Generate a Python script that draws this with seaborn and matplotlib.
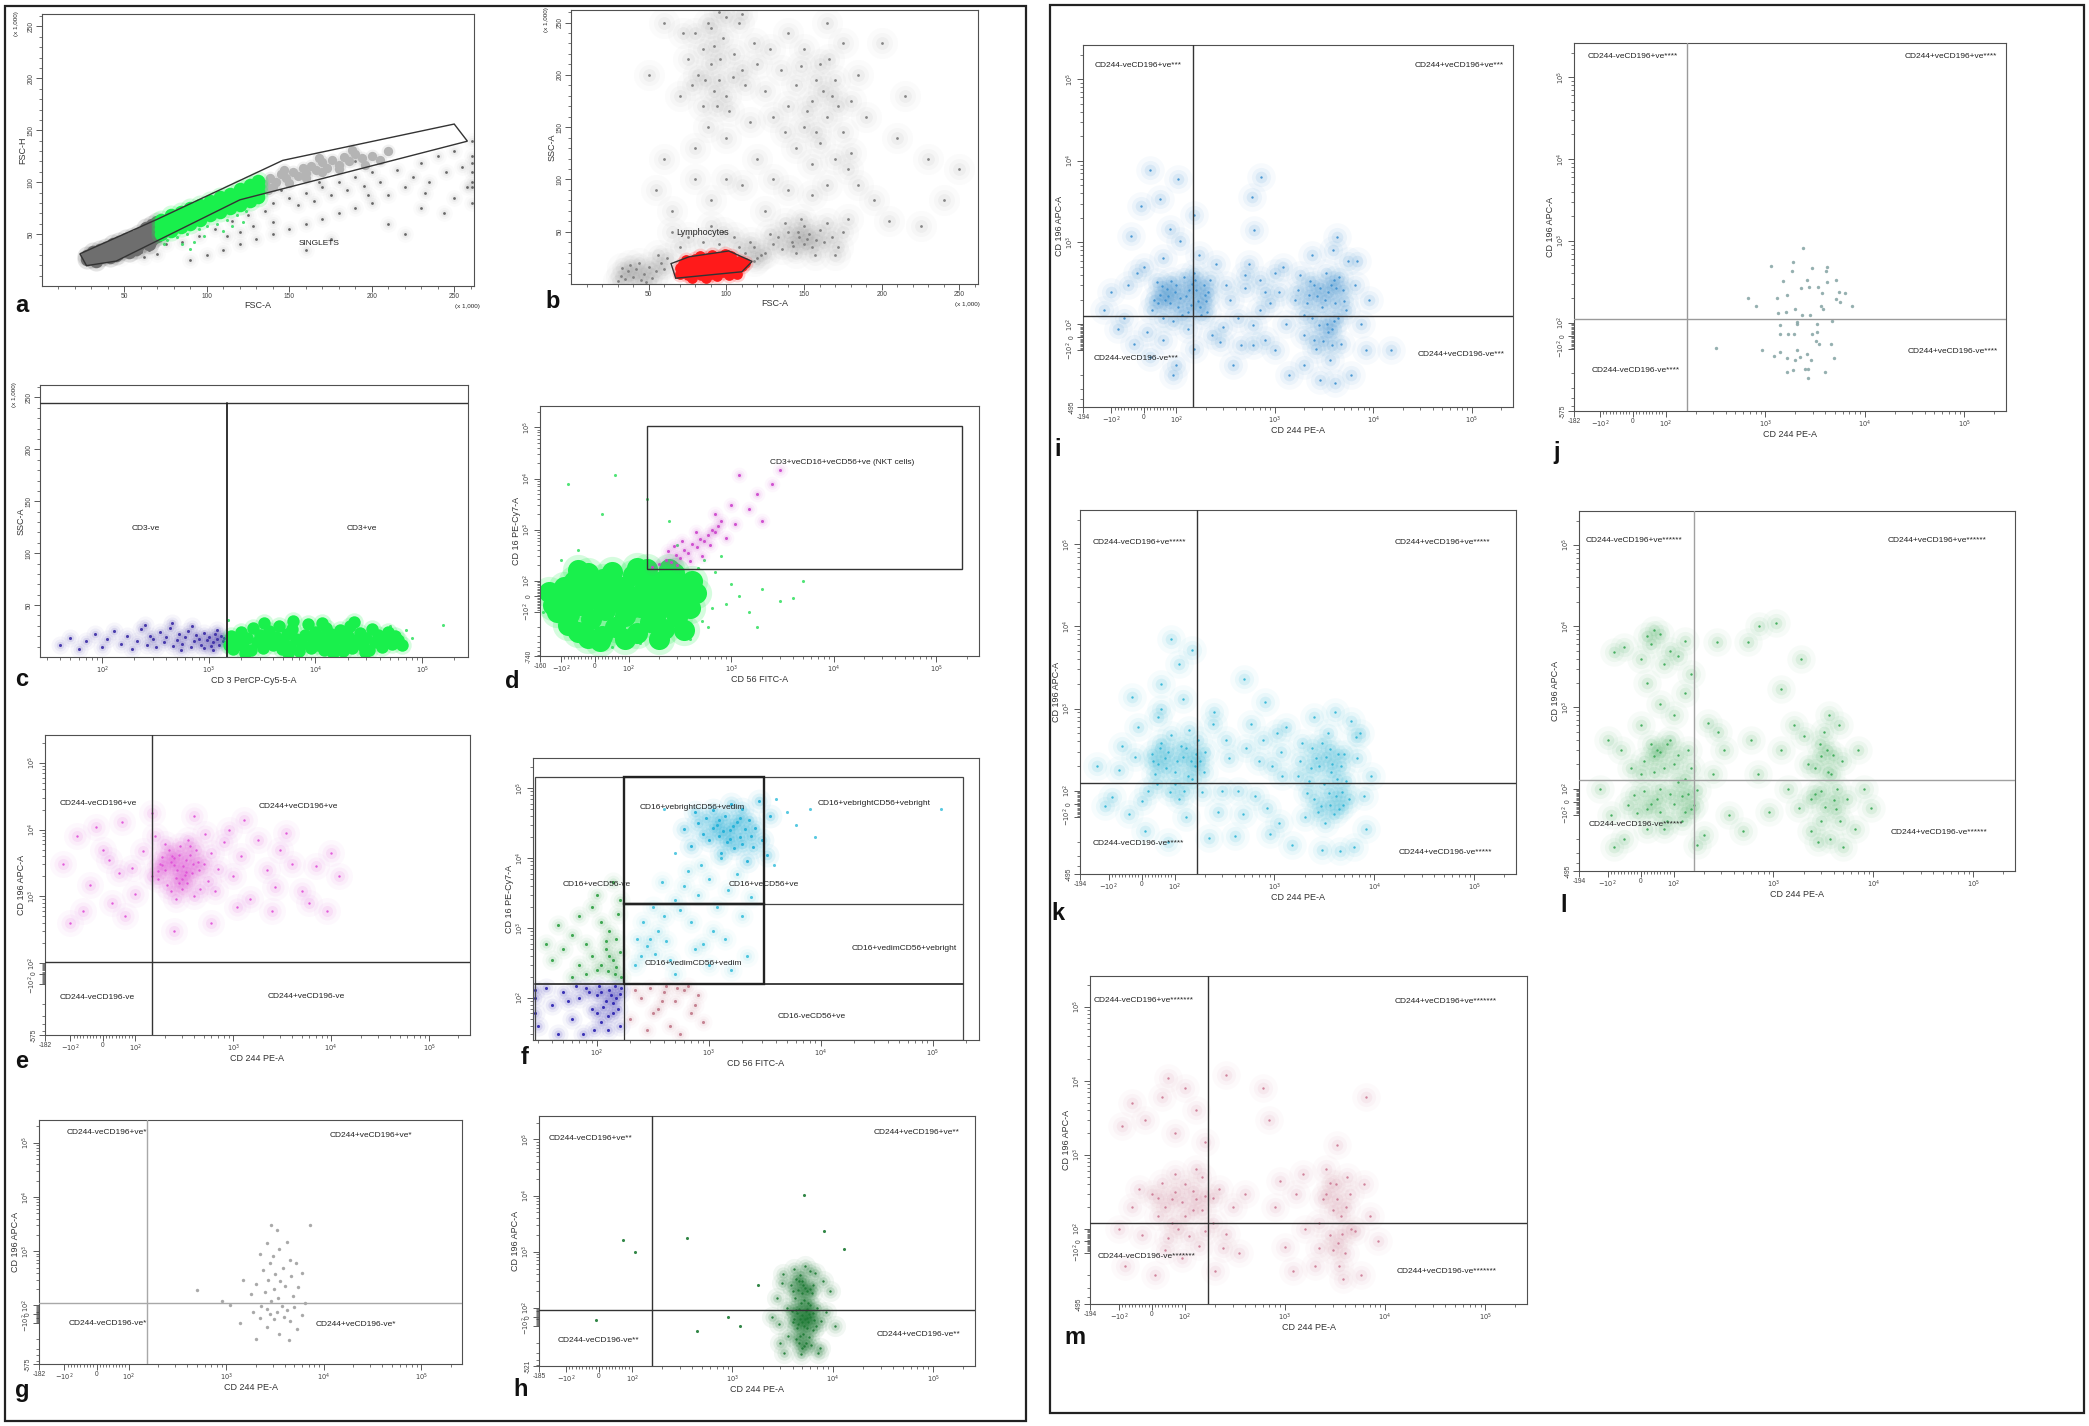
import matplotlib
matplotlib.use("Agg")
import matplotlib.pyplot as plt
import numpy as np
import pandas as pd
import seaborn as sns
from matplotlib.patches import Rectangle, Polygon
from matplotlib.ticker import FixedLocator, FixedFormatter, NullFormatter

# ---------------------------------------------------------------- data
# panel a  (FSC-A vs FSC-H, x1000)
a_gate = [(23, 31), (69.5, 64), (146, 121), (250, 156), (258, 139.5), (120, 83), (45, 24), (27, 19.6)]
a_dark = [(27, 26), (27, 29), (31, 27), (31, 30), (31, 33), (35, 28), (35, 32), (35, 35), (39, 30), (39, 34), (39, 37),
          (43, 32), (43, 36), (43, 40), (47, 34), (47, 38), (47, 42), (51, 36), (51, 40), (51, 45), (55, 38), (55, 43),
          (55, 47), (59, 40), (59, 45), (59, 50), (63, 42), (63, 47), (63, 52), (63, 56), (67, 45), (67, 50), (67, 55),
          (67, 59), (70, 48), (70, 53), (70, 58), (70, 62), (33, 24), (45, 30), (57, 36), (65, 40), (41, 28), (53, 33)]
a_green = [(72, 50), (72, 55), (72, 60), (72, 64), (78, 53), (78, 58), (78, 63), (78, 68), (84, 57), (84, 62), (84, 67),
           (84, 71), (90, 60), (90, 65), (90, 70), (90, 75), (96, 64), (96, 69), (96, 74), (96, 78), (102, 68), (102, 72),
           (102, 77), (102, 82), (108, 71), (108, 76), (108, 81), (108, 86), (114, 75), (114, 80), (114, 85), (114, 89),
           (120, 78), (120, 83), (120, 88), (120, 93), (126, 82), (126, 87), (126, 92), (126, 97), (131, 86), (131, 91),
           (131, 96), (131, 101)]
a_green_sparse = [(76, 44), (82, 47), (88, 50), (95, 55), (100, 58), (106, 60), (112, 64), (118, 68), (124, 72), (85, 40),
                  (98, 48), (110, 53), (122, 62), (92, 42), (115, 58), (128, 78), (80, 52), (104, 66), (74, 40), (90, 36)]
a_light = [(135, 98), (138, 104), (142, 100), (145, 108), (148, 104), (152, 110), (155, 106), (158, 114), (160, 109),
           (163, 116), (166, 112), (170, 119), (173, 114), (176, 121), (180, 117), (183, 124), (186, 120), (190, 127),
           (194, 123), (140, 95), (150, 99), (160, 104), (170, 110), (180, 113), (200, 125), (210, 130), (205, 121),
           (137, 92), (147, 112), (168, 123), (188, 131), (196, 117)]
a_black = [(55, 30), (60, 33), (65, 35), (75, 40), (85, 42), (95, 48), (105, 55), (115, 63), (125, 68), (135, 72),
           (140, 80), (150, 85), (155, 78), (160, 90), (165, 82), (170, 95), (175, 88), (180, 100), (185, 92), (190, 105),
           (195, 96), (200, 110), (205, 100), (210, 88), (215, 112), (220, 95), (225, 105), (230, 118), (235, 100),
           (240, 125), (245, 110), (250, 130), (255, 115), (258, 95), (200, 80), (190, 75), (180, 70), (170, 65),
           (160, 60), (150, 55), (140, 50), (130, 45), (120, 40), (110, 35), (100, 30), (90, 25), (175, 45), (210, 60),
           (230, 75), (250, 85), (160, 35), (220, 50), (190, 120), (140, 62), (128, 58), (168, 100), (145, 92),
           (198, 88), (232, 90), (244, 70), (120, 52), (112, 48), (261, 80), (261, 95), (261, 110), (261, 125),
           (261, 140), (261, 100), (261, 118), (62, 28), (70, 31), (48, 27)]

# panel b  (FSC-A vs SSC-A, x1000)
b_gate = [(64.4, 19.5), (76, 26), (101.6, 31.6), (116.6, 21.6), (110, 11.7), (82.4, 7.7), (67.4, 5.5)]
b_red = [(70, 10), (70, 15), (72, 19), (75, 9), (76, 14), (78, 20), (80, 24), (80, 11), (82, 16), (84, 9), (85, 20),
         (86, 13), (88, 25), (88, 17), (90, 10), (92, 21), (93, 14), (95, 26), (96, 18), (98, 11), (100, 23), (101, 15),
         (103, 27), (104, 19), (106, 13), (108, 22), (110, 17), (112, 20), (74, 23), (83, 27), (91, 28), (99, 29),
         (94, 8), (102, 9), (107, 10), (78, 6), (87, 6), (97, 25), (85, 23), (79, 17), (90, 19), (96, 14), (84, 15),
         (100, 18), (76, 18)]
b_gray = [(30, 3), (32, 8), (35, 5), (37, 12), (40, 7), (42, 14), (45, 4), (47, 10), (50, 16), (52, 6), (55, 12),
          (38, 18), (44, 20), (33, 15), (48, 2), (58, 20), (60, 14), (62, 25), (56, 28),
          (125, 30), (130, 38), (133, 45), (136, 33), (140, 50), (142, 40), (145, 30), (147, 45), (150, 55), (150, 38),
          (153, 48), (155, 35), (158, 42), (160, 52), (163, 40), (165, 58), (168, 45), (172, 35), (175, 50), (138, 58),
          (128, 48), (120, 25), (118, 35), (178, 62), (170, 28), (148, 62), (157, 28), (143, 36), (152, 43), (146, 50),
          (118, 22), (122, 28), (112, 30), (108, 35), (115, 40), (105, 45), (98, 50), (90, 55), (85, 40), (75, 45),
          (70, 35), (65, 50), (95, 38),
          (80, 240), (85, 225), (90, 210), (95, 195), (100, 180), (88, 250), (98, 235), (105, 220), (110, 205), (82, 200),
          (92, 185), (102, 165), (85, 170), (75, 215), (78, 190), (95, 260), (108, 250), (112, 190), (118, 230),
          (70, 180), (88, 150), (100, 140), (80, 130), (115, 155), (120, 210), (110, 258), (72, 240), (92, 228),
          (104, 198), (90, 245), (96, 215), (86, 195), (100, 255), (94, 170),
          (140, 240), (150, 225), (160, 210), (170, 195), (145, 190), (155, 175), (165, 160), (175, 145), (150, 150),
          (160, 135), (170, 120), (140, 170), (180, 175), (185, 200), (175, 230), (165, 250), (155, 115), (145, 130),
          (135, 205), (130, 160), (180, 125), (190, 160), (125, 185), (168, 180), (158, 195), (148, 208), (138, 145),
          (128, 225), (178, 110), (185, 95), (162, 185), (152, 165), (172, 170), (158, 145), (166, 215),
          (60, 120), (55, 90), (65, 70), (200, 230), (210, 140), (230, 120), (250, 110), (205, 60), (225, 55), (240, 80),
          (60, 250), (50, 200), (195, 80), (215, 180), (120, 120), (110, 95), (130, 100), (125, 70), (140, 90),
          (155, 85), (165, 95), (100, 100), (90, 80), (80, 100)]

# panel c  (CD3 PerCP-Cy5-5 vs SSC-A x1000)
c_gate_x = 1475
c_gate_top = 245
c_blue = [(40, 12), (50, 18), (60, 8), (70, 15), (85, 22), (100, 10), (110, 17), (130, 25), (150, 13), (170, 20),
          (190, 8), (210, 15), (230, 27), (260, 12), (280, 20), (300, 17), (320, 10), (350, 24), (380, 14), (400, 19),
          (430, 28), (460, 11), (500, 16), (520, 22), (560, 13), (600, 19), (640, 25), (680, 10), (720, 15), (760, 21),
          (800, 17), (850, 12), (900, 23), (950, 16), (1000, 19), (1050, 11), (1100, 14), (1150, 22), (1200, 17),
          (1250, 12), (1300, 20), (1350, 15), (1400, 18), (1450, 13), (700, 30), (450, 33), (250, 31), (1200, 26),
          (900, 9), (550, 7), (1100, 7)]
c_green = [(1550, 12), (1600, 20), (1700, 8), (1800, 16), (2000, 24), (2100, 11), (2300, 18), (2500, 7), (2600, 28),
           (2800, 14), (3000, 21), (3200, 9), (3500, 17), (3700, 25), (4000, 12), (4300, 19), (4500, 30), (4800, 8),
           (5000, 15), (5400, 22), (5800, 11), (6000, 27), (6500, 17), (7000, 6), (7500, 13), (8000, 21), (8500, 32),
           (9000, 9), (9500, 16), (10000, 24), (10500, 12), (11000, 19), (12000, 7), (12500, 28), (13000, 15),
           (14000, 22), (15000, 10), (16000, 18), (17000, 26), (18000, 6), (19000, 13), (20000, 20), (21000, 30),
           (22000, 9), (24000, 16), (26000, 23), (28000, 11), (30000, 18), (32000, 7), (34000, 27), (36000, 14),
           (39000, 21), (42000, 10), (45000, 17), (48000, 24), (52000, 13), (56000, 20), (60000, 16), (65000, 12),
           (3300, 33), (6200, 35), (11500, 33), (23000, 34), (2200, 4), (5500, 4), (14500, 4), (29000, 5)]
c_green_sparse = [(80000, 18), (157000, 31), (70000, 26), (1500, 36), (50000, 30)]

# panel d  (CD56 FITC vs CD16 PE-Cy7)
d_gate = (152, 171, 179000, 107000)
d_green = [(-110, -100), (-100, -20), (-90, 60), (-80, -180), (-70, 0), (-60, 100), (-50, -250), (-40, -60), (-30, 40),
           (-20, 140), (-10, -140), (0, -20), (10, 80), (20, -300), (30, -90), (40, 20), (50, 150), (60, -200),
           (70, -40), (80, 60), (90, -120), (100, 10), (110, 130), (120, -260), (130, -70), (140, 40), (150, 170),
           (160, -160), (180, -20), (200, 90), (220, -220), (240, -60), (260, 30), (280, 140), (300, -130), (330, -10),
           (360, 80), (400, -80), (450, 20), (-120, -60), (-130, 30), (15, -380), (90, -350), (200, -340), (-50, 160),
           (250, 170), (350, -230), (420, 100), (120, 180), (-20, -330), (55, -10), (105, -80), (165, 95), (-75, -110),
           (25, 110), (190, -100), (310, 60)]
d_green_sparse = [(700, 150), (900, -50), (1200, 0), (1500, -100), (2000, 50), (3000, -30), (5000, 100), (600, -200),
                  (800, 300), (1000, 80), (-150, -100), (-140, 50), (200, -450), (50, -500), (300, 500), (-50, 400),
                  (20, 2000), (-80, 8000), (60, 12000), (150, 4000), (250, 1500), (400, -350), (1800, -200), (4000, -10),
                  (550, 250), (650, -80), (480, 180), (-100, 260), (130, -420), (-30, -420), (380, -300), (520, -150)]
d_magenta = [(170, 190), (200, 210), (230, 260), (260, 230), (290, 320), (320, 280), (350, 400), (380, 350), (420, 520),
             (460, 450), (500, 650), (550, 600), (600, 800), (650, 1000), (700, 900), (750, 1200), (400, 240), (300, 200),
             (520, 300), (240, 380), (330, 600), (280, 480), (620, 500), (450, 900), (800, 1500), (900, 700),
             (1100, 1300), (1500, 2500), (1800, 5000), (2500, 8000), (1200, 12000), (3000, 15000), (700, 2000),
             (1000, 3000), (2000, 1500)]

# panel e
e_gate = (150, 105)
e_events = [(150, 2000), (180, 3000), (210, 1500), (240, 4000), (270, 2500), (300, 1800), (330, 3500), (380, 2200),
            (420, 5000), (460, 1300), (200, 6000), (260, 900), (350, 7000), (500, 3000), (550, 1700), (600, 4500),
            (700, 2600), (800, 6500), (120, 4800), (100, 1100), (160, 8000), (230, 1200), (290, 5600), (400, 1000),
            (650, 1200), (90, 2700), (320, 2100), (190, 3900), (440, 3300), (520, 8500), (250, 2900), (170, 2400),
            (360, 4200), (280, 1600), (200, 2500), (230, 3300), (260, 1900), (310, 2800), (340, 1600), (280, 4200),
            (390, 3000), (170, 1800), (220, 5000), (300, 1300), (450, 2500), (360, 5600), (250, 3800), (190, 2900),
            (330, 2300),
            (-120, 3000), (-80, 8000), (-40, 1500), (-20, 11000), (0, 5000), (30, 800),
            (50, 2200), (60, 13000), (-60, 600), (20, 3500), (70, 500), (1000, 2000), (1200, 4000), (1500, 900),
            (1800, 7000), (2200, 2500), (2700, 1400), (3000, 5000), (4000, 3000), (5000, 1200), (7000, 2800),
            (9000, 600), (12000, 2000), (900, 10000), (1300, 14000), (400, 16000), (150, 18000), (2500, 600),
            (3500, 9000), (600, 400), (250, 300), (1100, 700), (-100, 400), (6000, 800), (10000, 4500)]

# panel f  (CD56 FITC vs CD16 PE-Cy7, NK subsets)
f_x_gates = (28, 175, 3150, 186000)
f_y_gates = (25, 158, 2200, 144000)
f_cyan_bright = [(1550, 25000), (1200, 30000), (1900, 20000), (1000, 18000), (2300, 35000), (1400, 40000),
                 (1700, 14000), (2600, 27000), (800, 32000), (1100, 48000), (2000, 50000), (1300, 12000),
                 (3000, 18000), (900, 22000), (2200, 9000), (1600, 60000), (700, 15000), (3500, 40000), (600, 26000),
                 (2800, 65000), (1800, 33000), (1250, 21000), (2100, 26000), (1450, 17000), (950, 38000),
                 (3300, 11000), (750, 45000), (2500, 14500), (1650, 29000), (1350, 24000), (1900, 38000),
                 (2400, 21000), (1100, 27000), (1550, 19000), (2000, 16000), (1250, 35000)]
f_cyan_sparse = [(4000, 70000), (5000, 45000), (6000, 30000), (8000, 50000), (400, 50000), (500, 12000),
                 (3800, 8000), (9000, 20000), (120000, 50000)]
f_cyan_low = [(250, 400), (300, 700), (220, 300), (350, 900), (280, 550), (400, 1500), (500, 2500), (600, 4000),
              (800, 3000), (1000, 5000), (1200, 2000), (1500, 3500), (2000, 1500), (700, 1200), (900, 600), (450, 350),
              (1100, 900), (1800, 6000), (2400, 2800), (650, 6500), (320, 2000), (380, 4500), (550, 1800), (260, 1200),
              (230, 700), (330, 420), (420, 650), (750, 500), (1400, 700), (2200, 400), (1600, 250), (1000, 300),
              (500, 220), (850, 8000), (1300, 10000)]
f_green = [(110, 300), (130, 400), (150, 280), (160, 450), (120, 500), (140, 350), (100, 250), (90, 400), (80, 600),
           (70, 300), (60, 800), (50, 500), (40, 350), (150, 700), (130, 900), (110, 1200), (90, 2000), (70, 1500),
           (100, 3000), (160, 2500), (140, 4500), (45, 1100), (35, 600), (120, 650), (155, 1600), (80, 220), (60, 200),
           (165, 200), (145, 220), (125, 240)]
f_blue = [(30, 40), (40, 80), (50, 120), (60, 50), (70, 100), (80, 140), (90, 70), (100, 110), (110, 45), (120, 90),
          (130, 130), (140, 60), (150, 100), (160, 40), (165, 140), (35, 140), (45, 30), (55, 90), (75, 30), (85, 120),
          (95, 35), (105, 150), (115, 75), (125, 35), (135, 110), (145, 150), (155, 70), (125, 55), (110, 120),
          (140, 85), (160, 115), (100, 60), (65, 150), (28, 100), (28, 60), (28, 130)]
f_pink = [(200, 50), (250, 100), (300, 140), (350, 70), (400, 120), (450, 40), (500, 90), (600, 130), (700, 60),
          (800, 110), (900, 45), (220, 130), (280, 35), (380, 90), (550, 30), (650, 150), (750, 80), (320, 60),
          (420, 150), (520, 140)]

# panel g
g_gate = (155, 112)
g_events = [(2900, 3000), (3300, 2500), (2600, 1400), (4200, 1500), (3500, 1100), (2200, 900), (3000, 800), (4500, 700),
            (5200, 600), (2800, 600), (3800, 500), (2400, 450), (6000, 400), (3200, 380), (4600, 350), (1500, 300),
            (2700, 300), (3600, 280), (2000, 250), (4000, 230), (5500, 220), (3100, 200), (2500, 180), (1800, 160),
            (4800, 150), (3400, 140), (2900, 120), (6500, 110), (1100, 100), (2300, 95), (3700, 90), (5000, 80),
            (2600, 60), (4200, 50), (3300, 30), (1900, 20), (2800, 0), (6000, -10), (3900, -30), (2200, -50),
            (3100, -60), (4500, -80), (1400, -100), (2600, -120), (5300, -130), (3500, -160), (2000, -200),
            (4400, -210), (500, 190), (900, 120), (7200, 3100)]

# panel h
h_gate = (158, 76)
h_events = [(3600, -150), (4000, -60), (4400, 40), (4800, 120), (5200, -100), (5600, 200), (6000, 0), (6500, -40),
            (7000, 100), (3800, 250), (4600, -200), (5000, 300), (5400, 60), (5800, -160), (6200, 180), (4200, 150),
            (4700, -30), (5100, -140), (5500, 90), (6800, -100), (3900, 70), (4400, -110), (5300, 230), (6100, -220),
            (4900, 20), (5700, -60), (4300, 320), (6400, 260), (5000, -250), (4500, 210), (5200, 140), (4100, -20),
            (5900, 110), (4700, 380), (5400, -200), (4600, 90), (5000, -60), (5600, -10), (4300, -170), (6300, 40),
            (4500, -80), (4900, 180), (5300, -20), (5700, 120), (4300, 80), (5100, 250), (4700, -150), (5500, -110),
            (6000, 220), (4000, 200), (5800, 30), (5200, -230), (4600, 300), (6400, -120),
            (2500, 0), (2800, 150), (3000, -200), (3200, 400), (7500, -250), (8500, 50), (9500, 200), (10500, -100),
            (3300, -300), (4100, 500), (5300, 550), (6600, 420), (7200, -300), (2900, -80), (8000, 300), (4800, -320),
            (5900, 450), (3500, 100), (7700, -50), (3100, 280)]
h_sparse = [(5190, 10250), (8200, 2300), (355, 1760), (13000, 1120), (73, 1620), (107, 1000), (-8, -36), (442, -125),
            (1200, -100), (1800, 250), (900, 0)]

# panel i
i_gate = (148, 126)
i_events = [(25, 150), (50, 230), (80, 180), (100, 300), (130, 140), (160, 260), (200, 190), (220, 350), (60, 120),
            (110, 210), (150, 420), (40, 330), (90, 110), (180, 130), (210, 250), (120, 380), (70, 270), (140, 170),
            (30, 200), (190, 300), (45, 180), (75, 220), (105, 160), (135, 260), (165, 190), (195, 230), (55, 290),
            (85, 340), (115, 130), (145, 310), (175, 160), (205, 140), (65, 200), (95, 250), (125, 220), (155, 350),
            (-120, 150), (-80, 60), (-50, 300), (-30, -50), (0, 500), (20, -120), (60, 650),
            (100, -150), (150, -90), (250, 550), (300, 80), (280, -40), (-100, 250), (-60, 120), (10, 40), (90, -200),
            (170, 700), (230, 20), (320, 300), (-20, 420), (130, 60), (60, -20),
            (1600, 200), (2000, 130), (2500, 300), (3000, 160), (3500, 250), (4000, 110), (4500, 380), (5000, 190),
            (1800, 400), (2800, 90), (3300, 420), (3800, 60), (4200, 280), (5300, 150), (2200, 230), (3100, -30),
            (2600, -90), (4700, -50), (3600, -130), (2000, 20), (1700, 260), (2100, 180), (2400, 120), (2700, 220),
            (3200, 200), (3400, 100), (3700, 300), (4100, 180), (4400, 120), (4900, 260), (2300, 340), (2900, 280),
            (3500, 40), (4000, 350), (2500, -20), (3800, -60),
            (1200, 500), (1400, -200), (6500, 300), (7500, 100),
            (8500, -100), (9000, 200), (6000, -200), (5500, 600), (2400, 700), (3900, 800), (1000, -100), (1300, 100),
            (800, 250), (600, -60), (500, 400), (700, 150), (4100, -250), (2900, -230), (6800, 600), (2000, -150),
            (350, 200), (420, 120), (500, 280), (600, 90), (700, 350), (900, 180), (1100, 250), (450, -60), (800, -20),
            (1000, 420), (550, 550), (380, -150),
            (18, 7800), (103, 6000), (51, 3400), (81, 1450), (-10, 2800), (110, 1050), (-40, 1200), (150, 2200),
            (720, 6400), (590, 3600), (610, 1440), (4250, 1170), (15000, -100)]

# panel j
j_gate = (163, 111)
j_events = [(2410, 822), (1156, 492), (1910, 556), (2925, 460), (4220, 483), (4090, 426), (1841, 430), (1493, 322),
            (2600, 337), (5140, 337), (4220, 313), (2265, 262), (2740, 275), (3410, 270), (5520, 238), (6280, 231),
            (1641, 215), (3690, 231), (675, 201), (1315, 198), (808, 161), (5190, 192), (5620, 178), (7420, 161),
            (2000, 148), (3660, 159), (3780, 145), (1611, 136), (1352, 130), (2317, 123), (2800, 123), (4680, 105),
            (2065, 102), (1406, 81), (2065, 89), (3280, 89), (1406, 12), (1702, 12), (1940, 12), (2925, 12), (3280, 25),
            (3230, -39), (3490, -64), (4570, -64), (318, -90), (933, -103), (1406, -109), (2094, -104), (2660, -114),
            (2228, -125), (1227, -123), (1641, -131), (1982, -138), (2870, -138), (4860, -128), (2506, -175),
            (2700, -175), (1663, -192), (1910, -183), (3990, -192), (2700, -230)]

# panel k
k_gate = (166, 125)
k_events = [(40, 160), (70, 250), (100, 120), (130, 330), (160, 200), (190, 90), (60, 380), (90, 480), (120, 260),
            (150, 140), (20, 100), (80, 300), (110, 40), (170, 420), (50, 210), (140, 550), (200, 300), (30, 280),
            (100, 170), (180, 230), (45, 120), (75, 190), (105, 230), (135, 150), (165, 280), (195, 170), (55, 330),
            (85, 90), (115, 350), (145, 230), (35, 230), (125, 100),
            (-130, 200), (-90, 50), (-60, 350), (-40, -80), (-10, 600), (10, -150), (50, 800),
            (80, -200), (130, -100), (240, 650), (300, 100), (270, -60), (-110, -20), (-70, 180), (0, 20), (60, 1000),
            (120, 1300), (220, -180), (330, 420), (-20, 260),
            (1700, 150), (2100, 80), (2600, 250), (3100, 120), (3600, 320), (4100, 60), (4600, 200), (5200, 130),
            (1900, 380), (2900, -20), (3400, 500), (3900, -80), (4300, 280), (5600, 40), (2300, 190), (3200, -120),
            (2700, -60), (4800, -10), (3700, 170), (2000, -100), (1800, 230), (2200, 130), (2500, 40), (2800, 200),
            (3300, 260), (3500, 80), (3800, 210), (4200, 140), (4700, 90), (5000, 280), (2400, 330), (3000, 380),
            (4400, -40), (3600, -10),
            (1300, 600), (1500, -220), (6700, 250), (7800, 60),
            (8200, -140), (9200, 150), (6200, -230), (5800, 700), (2500, 800), (4000, 900), (1100, -120), (1200, 150),
            (6500, 450), (3000, -250), (4500, -260), (7200, 500),
            (350, 250), (430, 100), (520, 330), (640, 60), (760, 420), (950, 200), (1150, 300), (480, -80), (850, -30),
            (1050, 500), (580, 640), (400, -170), (700, 230), (900, -160),
            (60, 2000), (110, 3500), (-30, 1400), (150, 5200), (250, 900), (90, 7000), (500, 2300), (800, 1200)]

# panel l
l_gate = (159, 129)
l_events = [(-20, 50), (0, 150), (20, -60), (40, 250), (60, 100), (80, -120), (100, 200), (120, 40), (140, 300),
            (160, -30), (30, 350), (70, -150), (110, 120), (150, 180), (-10, -90), (50, 20), (90, 400), (130, -80),
            (10, 220), (170, 90), (60, 280), (100, -20), (40, 160), (140, 60), (-30, 180), (10, 80), (30, -20),
            (50, 300), (70, 180), (90, 60), (110, 260), (130, 130), (150, -60), (20, -150), (80, 350), (120, -120),
            (-40, -30), (60, -80),
            (-120, 100), (-90, -100), (-60, 300), (-100, 400), (200, -180), (250, 150), (280, 500), (220, 650),
            (-50, -200), (0, 600), (100, 800), (170, -240), (320, 300), (360, -100), (-80, -250), (60, 1100),
            (130, 1500), (20, 2000),
            (0, 4000), (30, 6000), (60, 8000), (90, 5000), (20, 7500), (-50, 5500), (110, 4300), (70, 3400), (40, 9000),
            (130, 6500), (-80, 4800), (150, 2600),
            (1400, 100), (1800, -50), (2200, 200), (2600, 60), (3000, -120), (3400, 300), (3800, 150), (4200, -60),
            (4800, 220), (5500, 20), (6500, -150), (8000, 100), (2000, 450), (3200, 500), (4500, 600), (2800, -220),
            (5000, -250), (1200, 300), (900, -80), (700, 150), (600, 400), (500, -160), (7000, 300), (9500, -50),
            (3600, 800), (2400, -160), (4000, 10), (3000, 250), (1600, 600), (2600, 180), (3000, 80), (3300, -40),
            (3500, 160), (3900, 260), (4300, 100), (2400, 20), (2900, 350), (4600, -120), (3700, -200),
            (720, 10000), (1050, 10800), (560, 6400), (1900, 4000), (1200, 1700), (270, 6300)]

# panel m
m_gate = (170, 122)
m_events = [(-100, 100), (-60, 200), (-30, 50), (0, 300), (20, 150), (40, -80), (60, 250), (80, 100), (100, 400),
            (120, 180), (140, -40), (160, 280), (190, 120), (220, 350), (260, 60), (300, 200), (350, -100), (400, 300),
            (-80, -150), (10, -200), (70, 550), (130, 650), (200, -180), (50, 20), (90, -120), (150, 500), (30, 420),
            (110, 40), (-40, 350), (240, -60), (40, 200), (70, 320), (100, 150), (130, 250), (160, 80), (190, 260),
            (60, 120), (120, 330), (90, 230), (20, 260), (150, 180),
            (-60, 5000), (-20, 3000), (30, 6000), (70, 2000), (100, 8000), (130, 4000), (160, 1500), (50, 11000),
            (-90, 2500), (255, 12000), (600, 8000), (6500, 6000), (700, 3000), (3350, 1360),
            (800, 200), (1000, -50), (1300, 300), (1600, 100), (2000, -150), (2400, 250), (2800, 50), (3200, 400),
            (3600, 150), (4000, -100), (4500, 300), (5000, 80), (5800, -200), (7000, 150), (8500, 0), (1500, 550),
            (2600, 650), (3800, -230), (2200, -60), (3000, 180), (4200, 500), (1200, -180), (6200, 400), (900, 450),
            (3400, -20), (2200, 120), (2600, 300), (3000, -80), (3300, 250), (3700, 60), (4100, 200), (2800, 420),
            (3500, -150), (4600, 100)]

quad_text = {
    'e': ['CD244-veCD196+ve', 'CD244+veCD196+ve', 'CD244-veCD196-ve', 'CD244+veCD196-ve'],
    'g': ['CD244-veCD196+ve*', 'CD244+veCD196+ve*', 'CD244-veCD196-ve*', 'CD244+veCD196-ve*'],
    'h': ['CD244-veCD196+ve**', 'CD244+veCD196+ve**', 'CD244-veCD196-ve**', 'CD244+veCD196-ve**'],
    'i': ['CD244-veCD196+ve***', 'CD244+veCD196+ve***', 'CD244-veCD196-ve***', 'CD244+veCD196-ve***'],
    'j': ['CD244-veCD196+ve****', 'CD244+veCD196+ve****', 'CD244-veCD196-ve****', 'CD244+veCD196-ve****'],
    'k': ['CD244-veCD196+ve*****', 'CD244+veCD196+ve*****', 'CD244-veCD196-ve*****', 'CD244+veCD196-ve*****'],
    'l': ['CD244-veCD196+ve******', 'CD244+veCD196+ve******', 'CD244-veCD196-ve******', 'CD244+veCD196-ve******'],
    'm': ['CD244-veCD196+ve*******', 'CD244+veCD196+ve*******', 'CD244-veCD196-ve*******', 'CD244+veCD196-ve*******'],
}
f_text = ['CD16+vebrightCD56+vedim', 'CD16+vebrightCD56+vebright', 'CD16+veCD56-ve', 'CD16+veCD56+ve',
          'CD16+vedimCD56+vebright', 'CD16+vedimCD56+vedim', 'CD16-veCD56+ve']

# ---------------------------------------------------------------- style
sns.set_theme(style="ticks")
plt.rcParams['font.family'] = ['Liberation Sans', 'DejaVu Sans']
plt.rcParams['mathtext.fontset'] = 'dejavusans'

W, H = 2089, 1426
fig = plt.figure(figsize=(W / 100, H / 100), dpi=100)
fig.patch.set_facecolor('white')


def add_ax(l, t, r, b):
    return fig.add_axes([l / W, 1 - b / H, (r - l) / W, (b - t) / H])


def scatter(ax, data, color, s, alpha):
    df = pd.DataFrame(data, columns=['x', 'y'])
    sns.scatterplot(data=df, x='x', y='y', ax=ax, s=s, color=color, alpha=alpha, linewidth=0, legend=False)


def soft(ax, data, color, k=1.0, a=1.0, dot=3):
    # layered translucent discs give a speckled density haze around each event
    scatter(ax, data, color, 420 * k, min(0.025 * a, 1))
    scatter(ax, data, color, 190 * k, min(0.04 * a, 1))
    scatter(ax, data, color, 70 * k, min(0.07 * a, 1))
    if dot:
        scatter(ax, data, color, dot, 0.9)


def solid(ax, data, color, s):
    scatter(ax, data, color, s * 2.2, 0.18)
    scatter(ax, data, color, s, 1.0)


def style_ax(ax, xlabel, ylabel):
    for sp in ax.spines.values():
        sp.set_color('#505050')
        sp.set_linewidth(0.8)
    ax.tick_params(which='major', direction='out', length=4, width=0.6, colors='#404040',
                   labelsize=4.8, pad=1.2)
    ax.tick_params(which='minor', direction='out', length=2, width=0.5, colors='#404040')
    ax.tick_params(axis='y', labelrotation=90)
    for lab in ax.get_yticklabels():
        lab.set_va('center')
    ax.set_xlabel(xlabel, fontsize=6.5, labelpad=0.5, color='#333333')
    ax.set_ylabel(ylabel, fontsize=6.5, labelpad=0.5, color='#333333')


def lin_axis(ax, which):
    axis = ax.xaxis if which == 'x' else ax.yaxis
    (ax.set_xlim if which == 'x' else ax.set_ylim)(0, 262)
    axis.set_major_locator(FixedLocator([50, 100, 150, 200, 250]))
    axis.set_major_formatter(FixedFormatter(['50', '100', '150', '200', '250']))
    axis.set_minor_locator(FixedLocator(list(range(10, 261, 10))))
    axis.set_minor_formatter(NullFormatter())


def log_axis(ax, which, lo, hi):
    if which == 'x':
        ax.set_xscale('log')
        ax.set_xlim(lo, hi)
        axis = ax.xaxis
    else:
        ax.set_yscale('log')
        ax.set_ylim(lo, hi)
        axis = ax.yaxis
    axis.set_major_locator(FixedLocator([1e2, 1e3, 1e4, 1e5]))
    axis.set_major_formatter(FixedFormatter(['$10^{2}$', '$10^{3}$', '$10^{4}$', '$10^{5}$']))
    axis.set_minor_locator(FixedLocator([k * 10 ** e for e in range(1, 6) for k in range(2, 10)]))
    axis.set_minor_formatter(NullFormatter())


def biexp_axis(ax, which, vmin, linscale, vmax=262144):
    if which == 'x':
        ax.set_xscale('symlog', linthresh=100, linscale=linscale)
        ax.set_xlim(vmin, vmax)
        axis = ax.xaxis
    else:
        ax.set_yscale('symlog', linthresh=100, linscale=linscale)
        ax.set_ylim(vmin, vmax)
        axis = ax.yaxis
    majors = [vmin, -100, 0, 100, 1e3, 1e4, 1e5]
    labels = [str(vmin), '$-10^{2}$', '0', '$10^{2}$', '$10^{3}$', '$10^{4}$', '$10^{5}$']
    axis.set_major_locator(FixedLocator(majors))
    axis.set_major_formatter(FixedFormatter(labels))
    minors = [-v for v in range(10, 100, 10)] + list(range(10, 100, 10))
    minors += [-k * 100 for k in range(2, 10) if -k * 100 > vmin]
    minors += [k * 10 ** e for e in (2, 3, 4, 5) for k in range(2, 10) if k * 10 ** e < vmax]
    axis.set_minor_locator(FixedLocator(minors))
    axis.set_minor_formatter(NullFormatter())


QFONT = dict(fontsize=6, color='#222222')


def quad_panel(rect, events, color, gate, xmin, ymin, key, pos, gate_color='#333333',
               k=1.0, a=1.0, plain=False, extra=None):
    ax = add_ax(*rect)
    if plain:
        scatter(ax, events, color, 6, 0.9)
    else:
        soft(ax, events, color, k=k, a=a)
    if extra is not None:
        scatter(ax, extra, color, 5, 0.9)
    biexp_axis(ax, 'x', xmin, 0.297)
    biexp_axis(ax, 'y', ymin, 0.144)
    ax.axvline(gate[0], color=gate_color, lw=1.0, zorder=3)
    ax.axhline(gate[1], color=gate_color, lw=1.0, zorder=3)
    for txt, (px, py) in zip(quad_text[key], pos):
        ax.text(px, py, txt, transform=ax.transAxes, ha='left', va='center', **QFONT)
    style_ax(ax, 'CD 244 PE-A', 'CD 196 APC-A')
    return ax


# ---------------------------------------------------------------- frames
fig.add_artist(Rectangle((5 / W, 1 - 1421 / H), (1026 - 5) / W, (1421 - 6) / H, transform=fig.transFigure,
                         fill=False, lw=1.6, ec='#222222'))
fig.add_artist(Rectangle((1050 / W, 1 - 1413 / H), (2084 - 1050) / W, (1413 - 5) / H, transform=fig.transFigure,
                         fill=False, lw=1.6, ec='#222222'))

# ---------------------------------------------------------------- panel a
ax = add_ax(42, 14, 474, 286)
scatter(ax, a_black, '#3a3a3a', 4, 0.75)
soft(ax, a_black, '#555555', k=0.35, a=0.8, dot=0)
solid(ax, a_light, '#b4b4b4', 45)
scatter(ax, a_green_sparse, '#30dd60', 5, 0.85)
solid(ax, a_dark, '#6e6e6e', 95)
solid(ax, a_green, '#19f04c', 95)
ax.add_patch(Polygon(a_gate, closed=True, fill=False, ec='#333333', lw=1.0, zorder=4))
ax.text(168, 41, 'SINGLETS', ha='center', va='center', fontsize=6, color='#222222')
lin_axis(ax, 'x')
lin_axis(ax, 'y')
style_ax(ax, 'FSC-A', 'FSC-H')
ax.text(0.985, -0.075, '(x 1,000)', transform=ax.transAxes, fontsize=4.5, ha='center', va='center')
ax.text(-0.06, 0.965, '(x 1,000)', transform=ax.transAxes, fontsize=4.5, ha='center', va='center', rotation=90)

# ---------------------------------------------------------------- panel b
ax = add_ax(571, 10, 978, 284)
soft(ax, b_gray, '#7a7a7a', k=1.2, a=0.9, dot=4)
solid(ax, b_red, '#ff1a1a', 60)
ax.add_patch(Polygon(b_gate, closed=True, fill=False, ec='#333333', lw=1.0, zorder=4))
ax.text(85, 49, 'Lymphocytes', ha='center', va='center', fontsize=6.5, color='#222222')
lin_axis(ax, 'x')
lin_axis(ax, 'y')
style_ax(ax, 'FSC-A', 'SSC-A')
ax.text(0.975, -0.075, '(x 1,000)', transform=ax.transAxes, fontsize=4.5, ha='center', va='center')
ax.text(-0.06, 0.965, '(x 1,000)', transform=ax.transAxes, fontsize=4.5, ha='center', va='center', rotation=90)

# ---------------------------------------------------------------- panel c
ax = add_ax(40, 385, 468, 657)
soft(ax, c_blue, '#3b2ca6', k=0.4, a=1.5, dot=5)
scatter(ax, c_green_sparse, '#30e060', 5, 0.85)
solid(ax, c_green, '#19f04c', 80)
log_axis(ax, 'x', 26, 2.7e5)
lin_axis(ax, 'y')
ax.axhline(c_gate_top, color='#333333', lw=1.0, zorder=3)
ax.plot([c_gate_x, c_gate_x], [0, c_gate_top], color='#222222', lw=1.3, zorder=3)
ax.text(254, 124, 'CD3-ve', ha='center', va='center', fontsize=6, color='#222222')
ax.text(27500, 124, 'CD3+ve', ha='center', va='center', fontsize=6, color='#222222')
style_ax(ax, 'CD 3 PerCP-Cy5-5-A', 'SSC-A')
ax.text(-0.06, 0.965, '(x 1,000)', transform=ax.transAxes, fontsize=4.5, ha='center', va='center', rotation=90)

# ---------------------------------------------------------------- panel d
ax = add_ax(540, 406, 979, 656)
scatter(ax, d_green_sparse, '#33e060', 5, 0.85)
solid(ax, d_green, '#19f04c', 230)
soft(ax, d_magenta, '#cc44cc', k=0.3, a=1.5, dot=5)
biexp_axis(ax, 'x', -160, 0.297)
biexp_axis(ax, 'y', -740, 0.27)
x0, y0, x1, y1 = d_gate
ax.add_patch(Rectangle((x0, y0), x1 - x0, y1 - y0, fill=False, ec='#333333', lw=1.0, zorder=4))
ax.text(0.524, 0.772, 'CD3+veCD16+veCD56+ve (NKT cells)', transform=ax.transAxes, ha='left', va='center', **QFONT)
style_ax(ax, 'CD 56 FITC-A', 'CD 16 PE-Cy7-A')

# ---------------------------------------------------------------- panel e
quad_panel((45, 735, 470, 1035), e_events, '#e04ed8', e_gate, -182, -575, 'e',
           [(0.035, 0.772), (0.502, 0.76), (0.035, 0.125), (0.525, 0.13)], k=0.9, a=1.4)

# ---------------------------------------------------------------- panel f
ax = add_ax(533, 758, 979, 1040)
soft(ax, f_pink, '#c07888', k=0.4, a=1.2, dot=5)
soft(ax, f_blue, '#2b22b0', k=0.5, a=1.6, dot=5)
soft(ax, f_green, '#2ea043', k=0.5, a=1.4, dot=5)
soft(ax, f_cyan_low, '#3cc0dc', k=0.6, a=1.2, dot=5)
soft(ax, f_cyan_bright, '#1fb0d8', k=0.7, a=2.2, dot=5)
scatter(ax, f_cyan_sparse, '#3cc0dc', 5, 0.85)
log_axis(ax, 'x', 27, 2.6e5)
log_axis(ax, 'y', 25, 2.7e5)
fx0, fx1, fx2, fx3 = f_x_gates
fy0, fy1, fy2, fy3 = f_y_gates
ax.add_patch(Rectangle((fx0, fy0), fx3 - fx0, fy3 - fy0, fill=False, ec='#444444', lw=0.9, zorder=4))
ax.plot([fx1, fx1], [fy0, fy1], color='#333333', lw=0.9, zorder=4)
ax.plot([fx0, fx3], [fy1, fy1], color='#333333', lw=1.3, zorder=4)
ax.plot([fx2, fx3], [fy2, fy2], color='#444444', lw=0.9, zorder=4)
ax.add_patch(Rectangle((fx1, fy2), fx2 - fx1, fy3 - fy2, fill=False, ec='#222222', lw=1.7, zorder=5))
ax.add_patch(Rectangle((fx1, fy1), fx2 - fx1, fy2 - fy1, fill=False, ec='#222222', lw=1.7, zorder=5))
for txt, (px, py) in zip(f_text, [(0.240, 0.826), (0.639, 0.837), (0.067, 0.553), (0.439, 0.553),
                                  (0.715, 0.326), (0.251, 0.273), (0.548, 0.085)]):
    ax.text(px, py, txt, transform=ax.transAxes, ha='left', va='center', **QFONT)
style_ax(ax, 'CD 56 FITC-A', 'CD 16 PE-Cy7-A')

# ---------------------------------------------------------------- panel g
quad_panel((39, 1120, 462, 1364), g_events, '#a0a0a0', g_gate, -182, -575, 'g',
           [(0.065, 0.95), (0.687, 0.937), (0.069, 0.168), (0.654, 0.162)], gate_color='#a8a8a8', plain=True)

# ---------------------------------------------------------------- panel h
quad_panel((539, 1116, 975, 1366), h_events, '#1c7a33', h_gate, -185, -521, 'h',
           [(0.023, 0.908), (0.768, 0.936), (0.042, 0.10), (0.775, 0.124)], k=0.55, a=2.2, extra=h_sparse)

# ---------------------------------------------------------------- panel i
quad_panel((1083, 45, 1513, 407), i_events, '#3a8fd0', i_gate, -194, -495, 'i',
           [(0.027, 0.942), (0.771, 0.942), (0.025, 0.135), (0.778, 0.146)], k=1.0, a=1.5)

# ---------------------------------------------------------------- panel j
quad_panel((1574, 43, 2006, 411), j_events, '#8aa8a8', j_gate, -182, -575, 'j',
           [(0.032, 0.962), (0.766, 0.962), (0.04, 0.109), (0.772, 0.161)], gate_color='#9a9a9a', plain=True)

# ---------------------------------------------------------------- panel k
quad_panel((1080, 510, 1516, 874), k_events, '#2ab4d6', k_gate, -194, -495, 'k',
           [(0.028, 0.912), (0.722, 0.912), (0.028, 0.085), (0.73, 0.058)], k=1.0, a=1.6)

# ---------------------------------------------------------------- panel l
quad_panel((1579, 511, 2015, 871), l_events, '#36a852', l_gate, -194, -495, 'l',
           [(0.015, 0.919), (0.709, 0.919), (0.021, 0.13), (0.715, 0.106)], gate_color='#a0a0a0', k=1.0, a=1.4)

# ---------------------------------------------------------------- panel m
quad_panel((1090, 976, 1527, 1304), m_events, '#cc7893', m_gate, -194, -495, 'm',
           [(0.009, 0.924), (0.697, 0.921), (0.017, 0.145), (0.701, 0.10)], k=1.0, a=1.2)

# ---------------------------------------------------------------- panel letters
letters = [('a', 22, 305), ('b', 553, 302), ('c', 22, 680), ('d', 512, 682), ('e', 22, 1062), ('f', 525, 1058),
           ('g', 22, 1390), ('h', 521, 1390), ('i', 1058, 450), ('j', 1557, 452), ('k', 1058, 913),
           ('l', 1564, 906), ('m', 1075, 1338)]
for ch, px, py in letters:
    fig.text(px / W, 1 - py / H, ch, fontsize=17, fontweight='bold', ha='center', va='center', color='#111111')

fig.savefig('out.png', dpi=100, facecolor='white')
